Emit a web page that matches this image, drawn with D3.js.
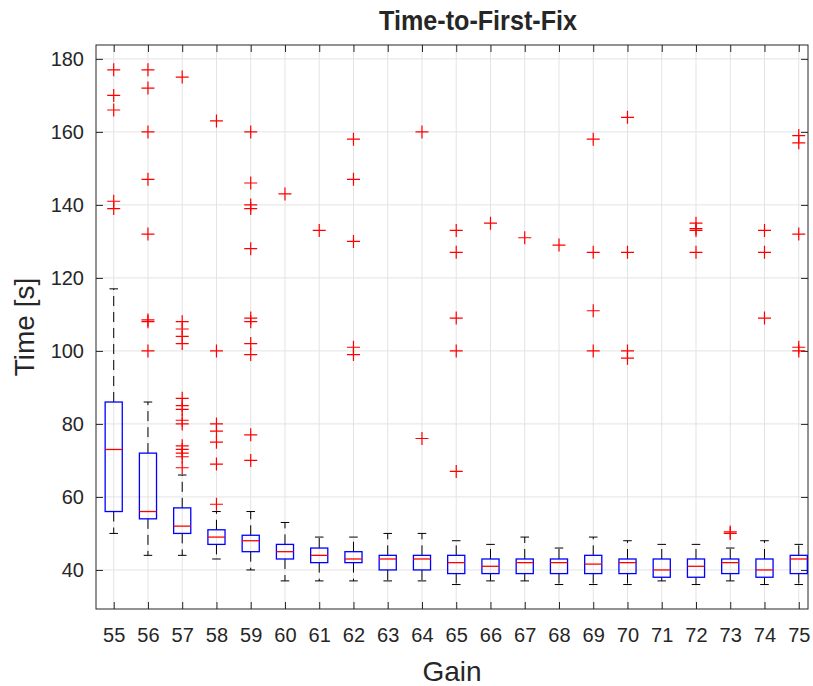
<!DOCTYPE html>
<html>
<head>
<meta charset="utf-8">
<script src="https://cdn.jsdelivr.net/npm/d3@7"></script>
<style>
  body { margin: 0; background: #fff; }
  text { font-family: "Liberation Sans", Arial, sans-serif; fill: #262626; }
</style>
</head>
<body>
<div id="chart"></div>
<script>
// boxplot stats, one entry per gain
const gains     = [55, 56, 57, 58, 59, 60, 61, 62, 63, 64, 65, 66, 67, 68, 69, 70, 71, 72, 73, 74, 75];
const whiskLow  = [50, 44, 44, 43, 40, 37, 37, 37, 37, 37, 36, 37, 37, 36, 36, 36, 37, 36, 37, 36, 36];
const q1        = [56, 54, 50, 47, 45, 43, 42, 42, 40, 40, 39, 39, 39, 39, 39, 39, 38, 38, 39, 38, 39];
const medians   = [73, 56, 52, 49, 48, 45, 44, 43, 43, 43, 42, 41, 42, 42, 41.6, 42, 40, 41, 42, 40, 43];
const q3        = [86, 72, 57, 51, 49.5, 47, 46, 45, 44, 44, 44, 43, 43, 43, 44, 43, 43, 43, 43, 43, 44];
const whiskHigh = [117, 86, 66, 56, 56, 53, 49, 49, 50, 50, 48, 47, 49, 46, 49, 48, 47, 47, 46, 48, 47];
const outliers  = [
  [177, 170, 166, 141, 139],
  [177, 172, 160, 147, 132, 108.5, 108, 100],
  [175, 108, 106, 104, 102, 87, 85, 84, 81, 80, 74, 73, 72, 71, 68],
  [163, 100, 80, 78, 75, 69, 58],
  [160, 146, 140, 139, 128, 109, 108, 102, 99, 77, 70],
  [143],
  [133],
  [158, 147, 130, 101, 99],
  [],
  [160, 76],
  [133, 127, 109, 100, 67],
  [135],
  [131],
  [129],
  [158, 127, 111, 100],
  [164, 127, 100, 98],
  [],
  [135, 133.5, 133, 127],
  [50.4, 50],
  [133, 127, 109],
  [159, 157, 132, 101, 100]
];
const yTicks = [40, 60, 80, 100, 120, 140, 160, 180];

const width = 813, height = 686;
const mLeft = 96, mRight = 808, mTop = 45, mBottom = 609;

const svg = d3.select('#chart').append('svg').attr('width', width).attr('height', height);

const x = d3.scaleLinear().domain([54.483, 75.27]).range([mLeft, mRight]);
const y = d3.scaleLinear().domain([29.3, 183.8]).range([mBottom, mTop]);

// grid
const grid = svg.append('g').attr('stroke', '#e3e3e3').attr('stroke-width', 1);
grid.selectAll('.gx').data(gains).enter().append('line')
  .attr('x1', d => x(d)).attr('x2', d => x(d)).attr('y1', mTop).attr('y2', mBottom);
grid.selectAll('.gy').data(yTicks).enter().append('line')
  .attr('y1', d => y(d)).attr('y2', d => y(d)).attr('x1', mLeft).attr('x2', mRight);

// axes, ticks inward on all four sides
const tick = 7;
const axB = svg.append('g').attr('transform', `translate(0,${mBottom})`)
  .call(d3.axisBottom(x).tickValues(gains).tickSize(-tick).tickPadding(19).tickFormat(d3.format('d')));
const axT = svg.append('g').attr('transform', `translate(0,${mTop})`)
  .call(d3.axisTop(x).tickValues(gains).tickSize(-tick).tickFormat(''));
const axL = svg.append('g').attr('transform', `translate(${mLeft},0)`)
  .call(d3.axisLeft(y).tickValues(yTicks).tickSize(-tick).tickPadding(12));
const axR = svg.append('g').attr('transform', `translate(${mRight},0)`)
  .call(d3.axisRight(y).tickValues(yTicks).tickSize(-tick).tickFormat(''));
[axB, axT, axL, axR].forEach(a => {
  a.select('.domain').remove();
  a.selectAll('line').attr('stroke', '#262626');
  a.selectAll('text').attr('font-size', '20px').attr('fill', '#262626')
    .attr('font-family', '"Liberation Sans", Arial, sans-serif');
});
svg.append('rect').attr('x', mLeft).attr('y', mTop).attr('width', mRight - mLeft).attr('height', mBottom - mTop)
  .attr('fill', 'none').attr('stroke', '#262626').attr('stroke-width', 1);

// boxes
const bw = 0.25;  // half box width in gain units
const cw = 0.125; // half whisker cap width
const g = svg.append('g');
gains.forEach((d, i) => {
  const cx = x(d);
  // whiskers
  g.append('line').attr('x1', cx).attr('x2', cx).attr('y1', y(q3[i])).attr('y2', y(whiskHigh[i]))
    .attr('stroke', '#000').attr('stroke-width', 1).attr('stroke-dasharray', '10,6');
  g.append('line').attr('x1', cx).attr('x2', cx).attr('y1', y(q1[i])).attr('y2', y(whiskLow[i]))
    .attr('stroke', '#000').attr('stroke-width', 1).attr('stroke-dasharray', '10,6');
  [whiskHigh[i], whiskLow[i]].forEach(v => {
    g.append('line').attr('x1', x(d - cw)).attr('x2', x(d + cw)).attr('y1', y(v)).attr('y2', y(v))
      .attr('stroke', '#000').attr('stroke-width', 1);
  });
  g.append('rect').attr('x', x(d - bw)).attr('width', x(d + bw) - x(d - bw))
    .attr('y', y(q3[i])).attr('height', y(q1[i]) - y(q3[i]))
    .attr('fill', 'none').attr('stroke', '#0000ff').attr('stroke-width', 1.3);
  g.append('line').attr('x1', x(d - bw)).attr('x2', x(d + bw)).attr('y1', y(medians[i])).attr('y2', y(medians[i]))
    .attr('stroke', '#ff0000').attr('stroke-width', 1.3);
  // outliers
  const s = 6.5;
  outliers[i].forEach(v => {
    g.append('path').attr('d', `M${cx - s},${y(v)}H${cx + s}M${cx},${y(v) - s}V${y(v) + s}`)
      .attr('stroke', '#ff0000').attr('stroke-width', 1.2).attr('fill', 'none');
  });
});

// labels
svg.append('text').attr('x', 478).attr('y', 30).attr('text-anchor', 'middle')
  .attr('font-size', '27px').attr('font-weight', 'bold').attr('fill', '#000')
  .attr('textLength', 198).attr('lengthAdjust', 'spacingAndGlyphs').text('Time-to-First-Fix');
svg.append('text').attr('x', (mLeft + mRight) / 2).attr('y', 681).attr('text-anchor', 'middle')
  .attr('font-size', '28px').text('Gain');
svg.append('text').attr('transform', `translate(34,${(mTop + mBottom) / 2}) rotate(-90)`)
  .attr('text-anchor', 'middle').attr('font-size', '28px').text('Time [s]');
</script>
</body>
</html>
